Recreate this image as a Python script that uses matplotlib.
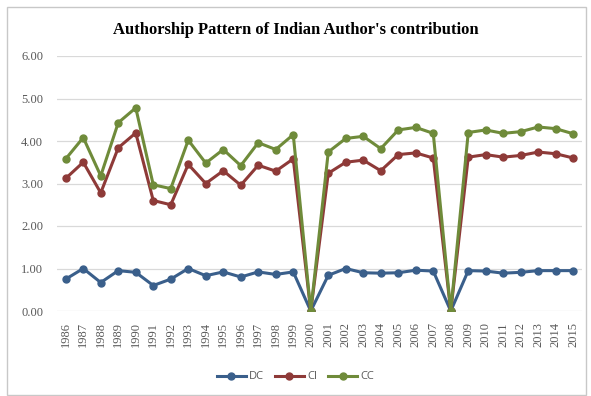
import matplotlib
matplotlib.use('Agg')
import matplotlib.pyplot as plt
from matplotlib.patches import Rectangle

# Data
years = [str(y) for y in range(1986, 2016)]

dc = [0.75, 1.00, 0.67, 0.95, 0.91, 0.60, 0.75, 1.00, 0.83, 0.92,
      0.80, 0.92, 0.86, 0.92, 0.00, 0.84, 1.00, 0.90, 0.89, 0.90,
      0.96, 0.94, 0.00, 0.95, 0.94, 0.89, 0.91, 0.95, 0.95, 0.95]

ci = [3.12, 3.50, 2.78, 3.84, 4.19, 2.60, 2.50, 3.45, 3.00, 3.30,
      2.96, 3.43, 3.29, 3.58, 0.00, 3.24, 3.50, 3.55, 3.30, 3.68,
      3.72, 3.60, 0.00, 3.62, 3.68, 3.62, 3.66, 3.74, 3.70, 3.60]

cc = [3.58, 4.08, 3.18, 4.43, 4.78, 2.97, 2.88, 4.02, 3.48, 3.80,
      3.42, 3.96, 3.80, 4.15, 0.00, 3.74, 4.06, 4.11, 3.82, 4.26,
      4.32, 4.18, 0.00, 4.20, 4.26, 4.18, 4.22, 4.33, 4.29, 4.17]

series = [("DC", dc, "#3A5F8B"), ("CI", ci, "#8E3A38"), ("CC", cc, "#6F8B3A")]

fig = plt.figure(figsize=(5.91, 3.96), dpi=100)
fig.patches.append(Rectangle((7 / 591, 1 / 396), 579 / 591, 388 / 396,
                             transform=fig.transFigure, fill=False,
                             edgecolor="#C8C8C8", linewidth=1.0))

ax = fig.add_axes([57 / 591, 85 / 396, 525 / 591, 255 / 396])
x = list(range(len(years)))
for name, vals, col in series:
    ax.plot(x, vals, color=col, linewidth=2.2, marker="o", markersize=5,
            label=name)

ax.set_xlim(-0.5, len(years) - 0.5)
ax.set_ylim(0, 6)
ax.set_yticks([0, 1, 2, 3, 4, 5, 6])
ax.set_yticklabels(["%.2f" % v for v in range(7)])
ax.set_xticks(x)
ax.set_xticklabels(years, rotation=90)
ax.grid(axis="y", color="#D9D9D9", linewidth=0.9)
ax.set_axisbelow(True)
for s in ax.spines.values():
    s.set_visible(False)
ax.tick_params(length=0, labelsize=9, colors="#595959", pad=8)
ax.tick_params(axis="y", pad=10)
for lbl in ax.get_xticklabels() + ax.get_yticklabels():
    lbl.set_family("Liberation Serif")

fig.text(0.5, 0.925, "Authorship Pattern of Indian Author's contribution",
         ha="center", va="center", fontsize=12, fontweight="bold",
         family="Liberation Serif")

leg = fig.legend(loc="center", bbox_to_anchor=(0.5, 0.048), ncol=3,
                 frameon=False, fontsize=8.5, handlelength=2.6,
                 columnspacing=1.0, handletextpad=0.3,
                 prop={"family": "Open Sans", "size": 8})
for t in leg.get_texts():
    t.set_color("#595959")

fig.savefig("out.png", dpi=100)
